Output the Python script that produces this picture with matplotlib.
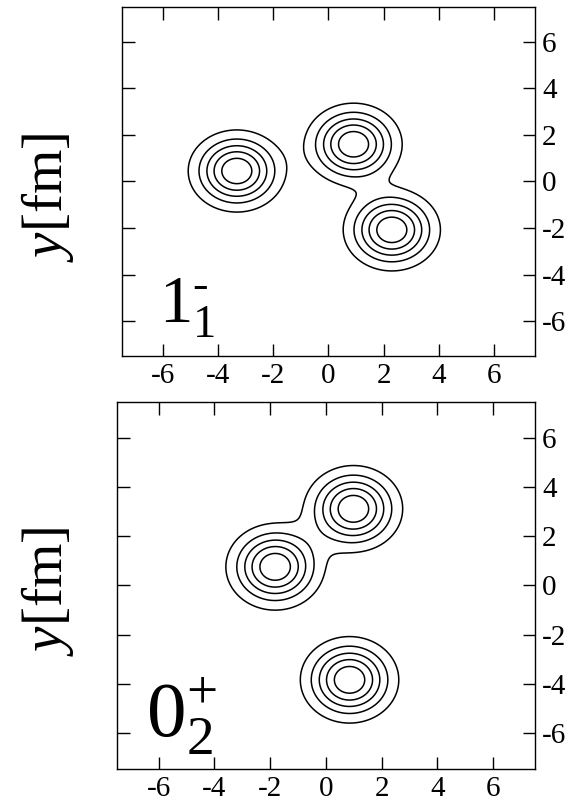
import numpy as np
import matplotlib
matplotlib.use("Agg")
import matplotlib.pyplot as plt

plt.rcParams['font.family'] = ['Liberation Serif', 'DejaVu Serif']
plt.rcParams['mathtext.fontset'] = 'custom'
plt.rcParams['mathtext.rm'] = 'Liberation Serif'
plt.rcParams['mathtext.it'] = 'Liberation Serif:italic'

# cluster centres (fm) for the two states
x_1m = [-3.33, 0.91, 2.30]
y_1m = [0.45, 1.60, -2.08]
x_0p = [-1.82, 0.99, 0.85]
y_0p = [0.76, 3.13, -3.85]

# gaussian width (b^2, fm^2) and contour levels relative to the peak
width_b2 = 1.7
levels = [0.16, 0.33, 0.50, 0.67, 0.84]
ticks = [-6, -4, -2, 0, 2, 4, 6]


def density(xc, yc, X, Y):
    rho = np.zeros_like(X)
    for cx, cy in zip(xc, yc):
        rho += np.exp(-((X - cx)**2 + (Y - cy)**2) / width_b2)
    return rho


def draw_panel(ax, xc, yc):
    g = np.linspace(-7.5, 7.5, 601)
    X, Y = np.meshgrid(g, g)
    ax.contour(X, Y, density(xc, yc, X, Y), levels=levels,
               colors='black', linewidths=1.1)
    ax.set_xlim(-7.5, 7.5)
    ax.set_ylim(-7.5, 7.5)
    ax.set_xticks(ticks)
    ax.set_yticks(ticks)
    ax.set_xticklabels([str(t) for t in ticks])
    ax.set_yticklabels([str(t) for t in ticks])
    ax.tick_params(direction='in', length=9, width=1.0, labelsize=21,
                   top=True, right=True, left=True, bottom=True,
                   labelleft=False, labelright=True, pad=5)
    for s in ax.spines.values():
        s.set_linewidth(1.0)


fig = plt.figure(figsize=(5.76, 8.01), dpi=100)

ax1 = fig.add_axes([0.2118, 0.5556, 0.717, 0.4357])
draw_panel(ax1, x_1m, y_1m)
# hyphen (U+2010) keeps the parity sign short
ax1.text(-6.15, -6.05, '$1_{1}^{\u2010}$', fontsize=48,
         ha='left', va='baseline')

ax2 = fig.add_axes([0.2026, 0.0396, 0.7262, 0.4589])
draw_panel(ax2, x_0p, y_0p)
ax2.text(-6.45, -6.17, '$0_{2}^{+}$', fontsize=57,
         ha='left', va='baseline')

fig.text(0.082, 0.753, r'$y$[fm]', rotation=90, fontsize=41,
         ha='center', va='center')
fig.text(0.082, 0.261, r'$y$[fm]', rotation=90, fontsize=41,
         ha='center', va='center')

fig.savefig("out.png", dpi=100)
